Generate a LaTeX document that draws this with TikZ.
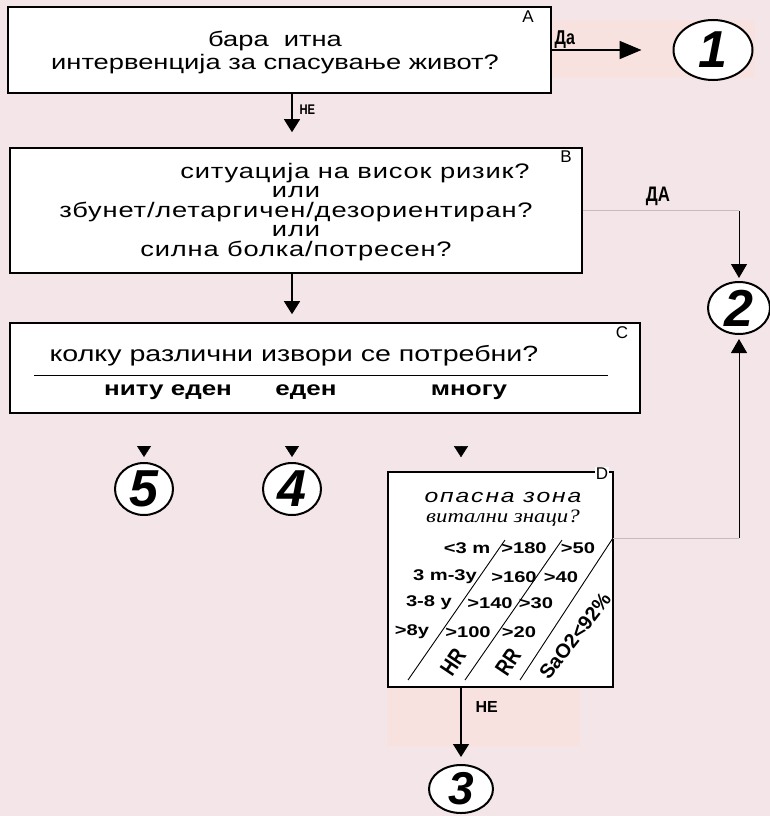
\documentclass[tikz,border=0pt]{standalone}
\usepackage{fontspec}
\setmainfont{Liberation Sans}
\newfontfamily\shirok[FakeStretch=1.3]{Liberation Sans}
\newfontfamily\tesen[FakeStretch=0.8]{Liberation Sans}
\newfontfamily\serifen[FakeStretch=1.2]{Liberation Serif}
\usepackage{tikz}
\usetikzlibrary{shapes,shapes.geometric,arrows.meta,calc,positioning}
\definecolor{pozadina}{HTML}{F4E6E8}
\definecolor{istaknato}{HTML}{F8E2DF}
\definecolor{bleda}{HTML}{C9B9BB}

\begin{document}
\begin{tikzpicture}[x=1pt,y=-1pt,
  kutija/.style={draw,fill=white,line width=1.6pt,inner sep=0pt},
  krug/.style={draw,ellipse,fill=white,line width=2pt,inner sep=0pt,
    font=\fontsize{52}{52}\selectfont\bfseries\itshape},
  tekst/.style={align=center,inner sep=0pt,font=\shirok\fontsize{21}{23}\selectfont},
  izbor/.style={inner sep=0pt,font=\shirok\bfseries\fontsize{20}{20}\selectfont},
  bukva/.style={inner sep=0pt,font=\fontsize{17}{17}\selectfont},
  odgovor/.style={inner sep=0pt,font=\bfseries\fontsize{16}{16}\selectfont},
  tabela/.style={inner sep=0pt,font=\shirok\bfseries\fontsize{15.5}{15.5}\selectfont},
  strelka/.style={line width=1.3pt,-{Triangle[length=13pt,width=16pt]}},
  vrv/.style={-{Triangle[length=11pt,width=14pt]}},
  bledo/.style={draw=bleda,line width=0.6pt}]
  \def \kolona {292}

  \fill[pozadina] (0,0) rectangle (770,816);
  \useasboundingbox (0,0) rectangle (770,816);
  \fill[istaknato] (548,20) rectangle (755,78);
  \fill[istaknato] (387,688) rectangle (580,747);

  % kutii
  \node[kutija,minimum width=543pt,minimum height=86pt] (itna) at (279.5,50) {};
  \node[kutija,minimum width=572pt,minimum height=125pt] (rizik) at (296,210.5) {};
  \node[kutija,minimum width=630pt,minimum height=90pt] (izvori) at (325,368) {};
  \node[kutija,minimum width=225pt,minimum height=215pt] (opasna) at (500.5,579.5) {};

  \node[bukva] (bukvaA) at (528,17) {A};
  \node[bukva] (bukvaB) at (566,157) {B};
  \node[bukva] (bukvaC) at (622,333) {C};
  \node[bukva,fill=white,inner sep=1pt] (bukvaD) at (602,474) {D};

  \node[tekst] (prasanjeA) at (275,52) {бара~~итна\\интервенција за спасување живот?};
  \node[tekst,font=\shirok\fontsize{21}{19.5}\selectfont\addfontfeatures{LetterSpace=4}] (prasanjeB) at (296,212)
    {\hspace*{118pt}ситуација на висок ризик?\\или\\збунет/летаргичен/дезориентиран?\\или\\силна болка/потресен?};
  \node[tekst,font=\shirok\fontsize{22}{22}\selectfont] (prasanjeC) at (294,356) {колку различни извори се потребни?};
  \draw[line width=0.8pt] ($(izvori.north west)+(25,53)$) -- ($(izvori.north east)+(-33,53)$);
  \node[izbor] (nitu) at (168,392) {ниту еден};
  \node[izbor] (eden) at (306,392) {еден};
  \node[izbor] (mnogu) at (469,392) {многу};

  % krugovi
  \node[krug,minimum width=79pt,minimum height=60pt] (kraj1) at (713,50) {1};
  \node[krug,minimum width=62pt,minimum height=52pt] (kraj2) at (739,308) {2};
  \node[krug,minimum width=64pt,minimum height=48pt,font=\fontsize{46}{46}\selectfont\bfseries\itshape] (kraj3) at (461,789) {3};
  \node[krug,minimum width=58pt,minimum height=52pt] (kraj4) at (\kolona,489) {4};
  \node[krug,minimum width=58pt,minimum height=52pt] (kraj5) at (144,489) {5};

  % opasna zona
  \node[inner sep=0pt,font=\shirok\itshape\fontsize{19}{19}\selectfont\addfontfeatures{LetterSpace=10}]
    (zona) at (503,497) {опасна зона};
  \node[inner sep=0pt,font=\serifen\itshape\fontsize{19}{19}\selectfont] (znaci) at (503,518) {витални знаци?};
  \coordinate (d1g) at (505,540); \coordinate (d1d) at (408,680);
  \coordinate (d2g) at (562,540); \coordinate (d2d) at (465,680);
  \coordinate (d3g) at (613,538); \coordinate (d3d) at (520,680);
  \draw[line width=0.9pt] (d1d) -- (d1g) (d2d) -- (d2g) (d3d) -- (d3g);
  \node[tabela] (v1) at (467,548) {<3 m};
  \node[tabela] (hr1) at (524,548) {>180};
  \node[tabela] (rr1) at (578,548) {>50};
  \node[tabela] (v2) at (445,577) {3 m-3y};
  \node[tabela] (hr2) at (514,577) {>160};
  \node[tabela] (rr2) at (561,577) {>40};
  \node[tabela] (v3) at (429,603) {3-8 y};
  \node[tabela] (hr3) at (490,603) {>140};
  \node[tabela] (rr3) at (536,603) {>30};
  \node[tabela] (v4) at (412,632) {>8y};
  \node[tabela] (hr4) at (468,632) {>100};
  \node[tabela] (rr4) at (519,632) {>20};
  \node[inner sep=0pt,rotate=56,font=\tesen\bfseries\fontsize{23}{23}\selectfont] (hr) at (453,662) {HR};
  \node[inner sep=0pt,rotate=56,font=\tesen\bfseries\fontsize{23}{23}\selectfont] (rr) at (508,662) {RR};
  \node[inner sep=0pt,rotate=52,font=\bfseries\fontsize{20}{20}\selectfont] (sao2) at (575,636) {SaO2<92\%};

  % vrski
  \draw[line width=1.8pt,-{Triangle[length=22pt,width=18pt]},shorten >=31pt] (itna.east) --
    node[pos=0,anchor=south west,odgovor,font=\tesen\bfseries\fontsize{20}{20}\selectfont,xshift=2pt,yshift=1pt] (da1) {Да} (kraj1.west);
  \draw[strelka,shorten >=15pt] (itna.south -| kraj4) --
    node[pos=0.3,right=7pt,odgovor,font=\tesen\bfseries\fontsize{14}{14}\selectfont] (ne1) {НЕ} (rizik.north -| kraj4);
  \draw[strelka,shorten >=8pt] (rizik.south -| kraj4) -- (izvori.north -| kraj4);

  \coordinate (agol1) at (rizik.east -| kraj2);
  \draw[bledo] (rizik.east) -- (agol1);
  \node[odgovor,font=\tesen\bfseries\fontsize{21}{21}\selectfont] (da2) at (658,196) {ДА};
  \draw[line width=1pt,-{Triangle[length=14pt,width=16pt]},shorten >=3pt] (agol1) -- (kraj2.north);

  \coordinate (agol2) at (d3g -| kraj2);
  \draw[bledo] (d3g) -- (agol2);
  \draw[line width=1pt,-{Triangle[length=14pt,width=16pt]},shorten >=4pt] (agol2) -- (kraj2.south);

  \draw[vrv,shorten <=34pt,shorten >=5pt] (izvori.south -| kraj5) -- (kraj5.north);
  \draw[vrv,shorten <=34pt,shorten >=5pt] (izvori.south -| kraj4) -- (kraj4.north);
  \draw[vrv,shorten <=34pt,shorten >=14pt] (izvori.south -| kraj3) -- (opasna.north -| kraj3);

  \draw[strelka,shorten >=7pt] (opasna.south -| kraj3) --
    node[pos=0.25,right=14pt,odgovor] (ne2) {НЕ} (kraj3.north);
\end{tikzpicture}
\end{document}
